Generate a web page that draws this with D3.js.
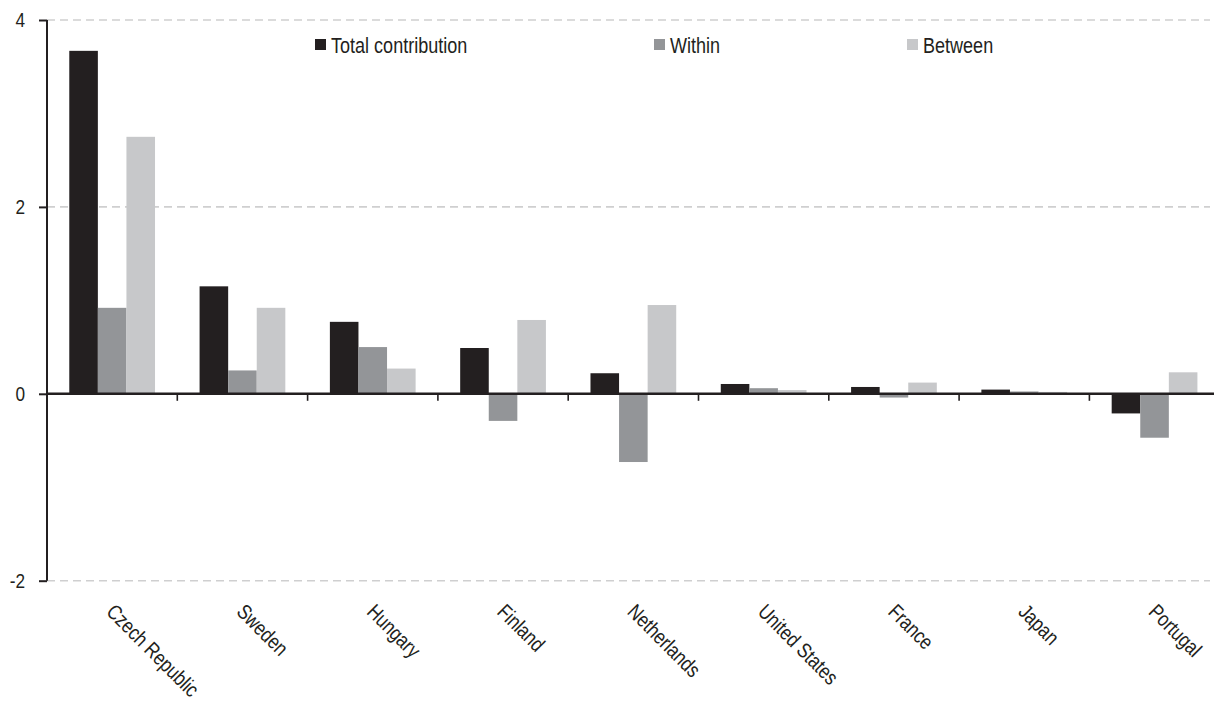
<!DOCTYPE html>
<html>
<head>
<meta charset="utf-8">
<script src="https://cdn.jsdelivr.net/npm/d3@7"></script>
<style>
  html, body { margin: 0; padding: 0; background: #fff; }
  svg { display: block; }
  text { font-family: "Liberation Sans", Arial, sans-serif; fill: #231f20; }
</style>
</head>
<body>
<svg id="chart" width="1214" height="701"></svg>
<script>
// Contribution to growth by country, split into within and between components
const countries = ["Czech Republic", "Sweden", "Hungary", "Finland", "Netherlands",
                   "United States", "France", "Japan", "Portugal"];
const seriesNames = ["Total contribution", "Within", "Between"];
const totalValues   = [3.67, 1.15, 0.77, 0.49, 0.22, 0.105, 0.073, 0.045, -0.21];
const withinValues  = [0.92, 0.25, 0.50, -0.29, -0.73, 0.06, -0.04, 0.025, -0.47];
const betweenValues = [2.75, 0.92, 0.27, 0.79, 0.95, 0.04, 0.12, 0.02, 0.23];
const yTicks = [-2, 0, 2, 4];
const colors = ["#231f20", "#939598", "#c7c8ca"];

const seriesValues = [totalValues, withinValues, betweenValues];
const rows = countries.map((c, i) => ({
  country: c,
  values: seriesNames.map((s, j) => ({ key: s, value: seriesValues[j][i] }))
}));

// horizontal squeeze that gives a condensed look to the regular sans face
const NARROW = 0.82;

const svg = d3.select("#chart");
const plotLeft = 47, plotRight = 1219.7, plotTop = 20, plotBottom = 580.7;

const x0 = d3.scaleBand().domain(countries).range([plotLeft, plotRight])
  .paddingInner(0.342).paddingOuter(0.171);
const x1 = d3.scaleBand().domain(seriesNames).range([0, x0.bandwidth()]).padding(0);
const y = d3.scaleLinear().domain([-2, 4]).range([plotBottom, plotTop]);
const step = x0.step();

// dashed gridlines
svg.append("g").selectAll("line")
  .data(yTicks.filter(t => t !== 0))
  .join("line")
  .attr("x1", plotLeft).attr("x2", 1210)
  .attr("y1", d => y(d)).attr("y2", d => y(d))
  .attr("stroke", "#cfcfd0").attr("stroke-width", 1.6)
  .attr("stroke-dasharray", "8,5");

// bars
svg.append("g").selectAll("g")
  .data(rows)
  .join("g")
  .attr("transform", d => `translate(${x0(d.country)},0)`)
  .selectAll("rect")
  .data(d => d.values)
  .join("rect")
  .attr("x", d => x1(d.key))
  .attr("width", x1.bandwidth())
  .attr("y", d => y(Math.max(0, d.value)))
  .attr("height", d => Math.abs(y(d.value) - y(0)))
  .attr("fill", (d, i) => colors[i]);

// y axis
const yAxis = d3.axisLeft(y).tickValues(yTicks).tickSize(8).tickPadding(14)
  .tickFormat(d => String(d));
const gy = svg.append("g").attr("transform", `translate(${plotLeft},0)`).call(yAxis);
gy.select(".domain").attr("stroke", "#231f20").attr("stroke-width", 2)
  .attr("d", `M0,${y(4)}V${y(-2)}`);
gy.selectAll(".tick line").attr("stroke", "#231f20").attr("stroke-width", 2);
gy.selectAll(".tick text")
  .attr("font-size", 21)
  .style("font-family", "'Liberation Sans', Arial, sans-serif")
  .attr("fill", "#231f20")
  .attr("x", -22 / NARROW)
  .attr("transform", `scale(${NARROW},1)`);

// zero baseline with category boundary ticks
const boundaries = d3.range(1, countries.length).map(i => plotLeft + i * step);
const gx = svg.append("g");
gx.append("line")
  .attr("x1", plotLeft).attr("x2", 1214)
  .attr("y1", y(0)).attr("y2", y(0))
  .attr("stroke", "#231f20").attr("stroke-width", 2.5);
gx.selectAll("line.tk").data(boundaries).join("line")
  .attr("class", "tk")
  .attr("x1", d => d).attr("x2", d => d)
  .attr("y1", y(0)).attr("y2", y(0) + 7)
  .attr("stroke", "#231f20").attr("stroke-width", 1.6);

// rotated category labels
svg.append("g").selectAll("text")
  .data(countries)
  .join("text")
  .attr("transform", d =>
    `translate(${x0(d) + x0.bandwidth() / 2 - 7},613) rotate(45) scale(${NARROW},1)`)
  .attr("text-anchor", "start")
  .attr("font-size", 21)
  .text(d => d);

// legend
const legendX = [315, 654, 907];
const legend = svg.append("g").selectAll("g")
  .data(seriesNames)
  .join("g")
  .attr("transform", (d, i) => `translate(${legendX[i]},39)`);
legend.append("rect").attr("width", 11).attr("height", 11)
  .attr("fill", (d, i) => colors[i]);
legend.append("text")
  .attr("transform", `translate(16,14.3) scale(${NARROW},1)`)
  .attr("font-size", 22).text(d => d);
</script>
</body>
</html>
